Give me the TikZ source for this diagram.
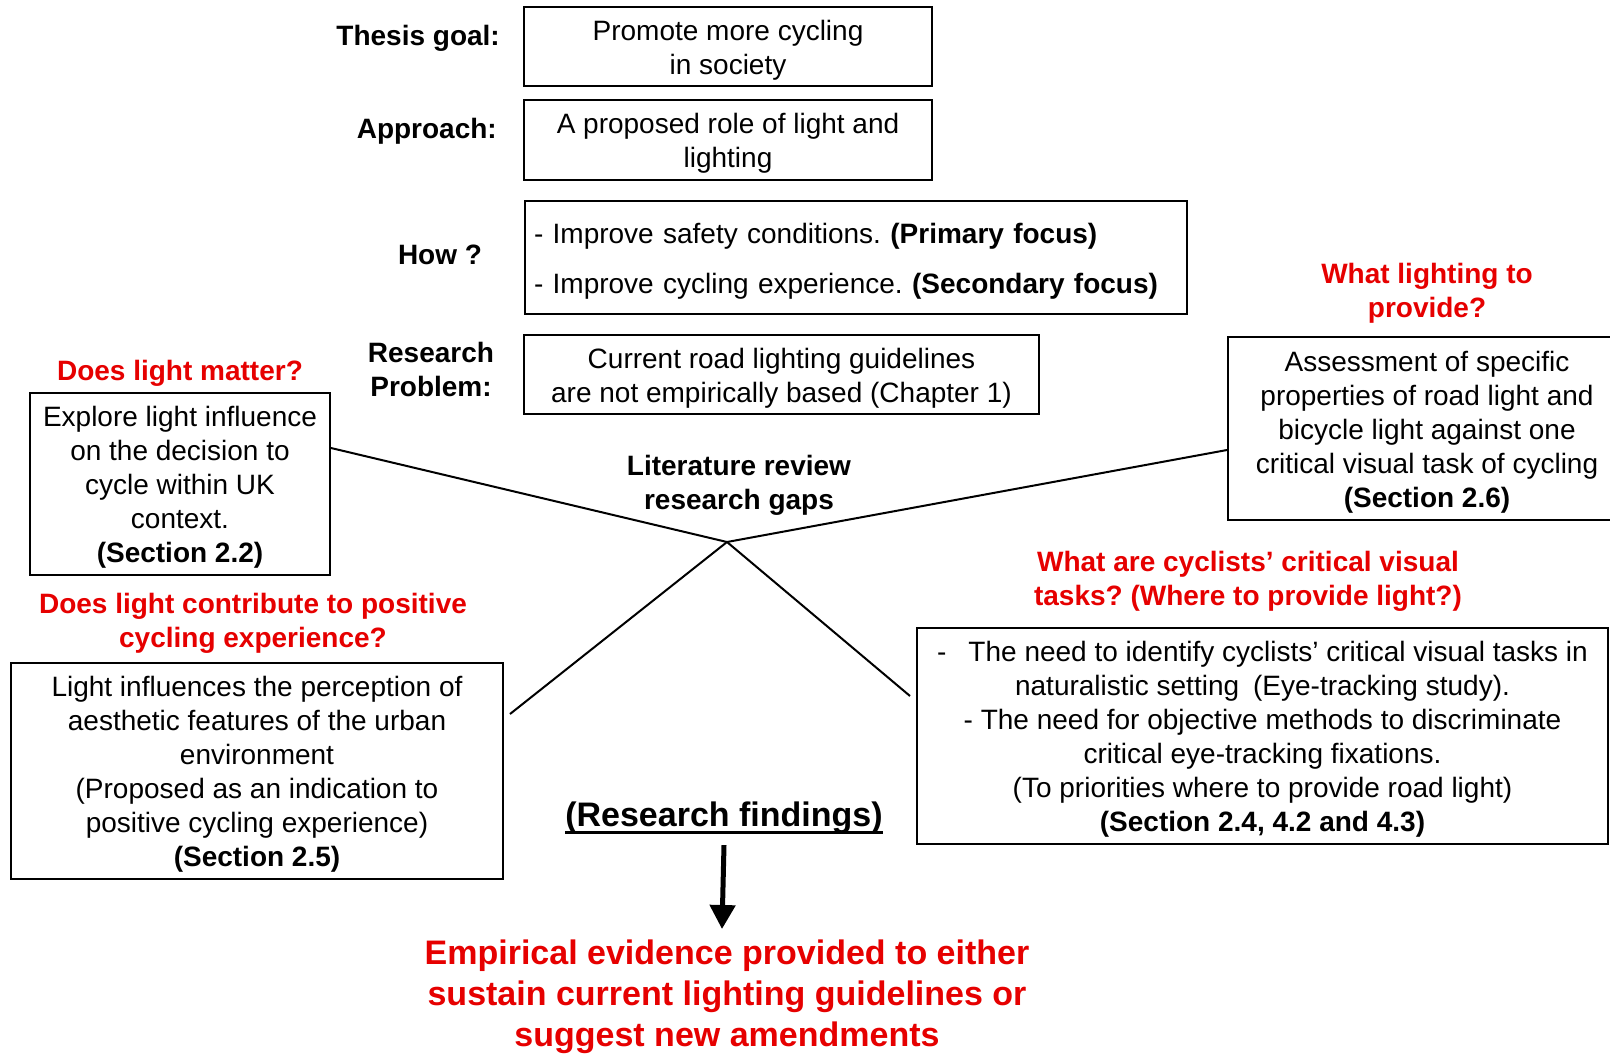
\documentclass[tikz,border=0pt]{standalone}
\usepackage{fontspec}
\setmainfont{Liberation Sans}
\usetikzlibrary{arrows.meta}
\definecolor{qred}{RGB}{230,0,0}
\newcommand\bodyfs{\fontsize{28}{34}\selectfont}
\newcommand\bigfs{\fontsize{34}{41}\selectfont}
\newcommand\tstrut{\rule{0pt}{27.5pt}}
\frenchspacing
\begin{document}
\begin{tikzpicture}[x=1pt,y=-1pt,
  box/.style={draw, line width=2pt, inner sep=0pt, align=center, font=\bodyfs},
  lbl/.style={inner sep=0pt, align=center, font=\bodyfs\bfseries, execute at begin node=\tstrut},
  qlbl/.style={inner sep=0pt, align=center, font=\bodyfs\bfseries, text=qred, execute at begin node=\tstrut},
  conn/.style={line width=2pt},
  bigarrow/.style={line width=5pt, -{Triangle[width=25pt,length=24pt]}}]
\useasboundingbox (0,0) rectangle (1610,1053);
\clip (0,0) rectangle (1610,1053);
\fill[white] (0,0) rectangle (1610,1053);

% top column
\node[box, minimum width=408, minimum height=79] (goal) at (728,46.5) {\tstrut Promote more cycling\\in society};
\node[lbl, anchor=east] (lgoal) at (500,35) {Thesis goal:};
\node[box, minimum width=408, minimum height=80] (appr) at (728,140) {\tstrut A proposed role of light and\\lighting};
\node[lbl, anchor=east] (lappr) at (497,128) {Approach:};
\node[box, anchor=north west, text width=644, inner xsep=9pt, align=left, minimum height=113,
      font=\fontsize{28}{50}\selectfont] (how) at (524,200)
      {\tstrut- Improve safety conditions. \textbf{(Primary focus)}\\- Improve cycling experience. \textbf{(Secondary focus)}};
\node[lbl] (lhow) at (440,251) {How ?};
\node[box, minimum width=515, minimum height=79] (prob) at (781.5,374.5) {\tstrut Current road lighting guidelines\\are not empirically based (Chapter 1)};
\node[lbl] (lprob) at (431,369.5) {Research\\Problem:};

% left upper
\node[qlbl] (q1) at (180,370) {Does light matter?};
\node[box, minimum width=300, minimum height=182] (s22) at (180,484)
  {\tstrut Explore light influence\\on the decision to\\cycle within UK\\context.\\\textbf{(Section 2.2)}};

% hub
\node[lbl] (lit) at (739,485) {Literature review\\research gaps};
\coordinate (hub) at (727,542);

% right upper
\node[qlbl] (q2) at (1427,293.5) {What lighting to\\provide?};
\node[box, minimum width=398, minimum height=183] (s26) at (1427,428.5)
  {\tstrut Assessment of specific\\properties of road light and\\bicycle light against one\\critical visual task of cycling\\\textbf{(Section 2.6)}};

% right lower
\node[qlbl] (q3) at (1248,581) {What are cyclists’ critical visual\\tasks? (Where to provide light?)};
\node[box, minimum width=691, minimum height=216] (s24) at (1262.5,736)
  {\tstrut -\hspace{22pt}The need to identify cyclists’ critical visual tasks in\\naturalistic setting\enspace(Eye-tracking study).\\- The need for objective methods to discriminate\\critical eye-tracking fixations.\\(To priorities where to provide road light)\\\textbf{(Section 2.4, 4.2 and 4.3)}};

% left lower
\node[qlbl] (q4) at (253,623) {Does light contribute to positive\\cycling experience?};
\node[box, minimum width=492, minimum height=216] (s25) at (257,771)
  {\tstrut Light influences the perception of\\aesthetic features of the urban\\environment\\(Proposed as an indication to\\positive cycling experience)\\\textbf{(Section 2.5)}};

% connectors
\draw[conn] ([yshift=36pt]s22.east) -- (hub);
\draw[conn] (hub) -- ([yshift=-21.5pt]s26.west);
\draw[conn] (hub) -- ([xshift=6pt,yshift=57pt]s25.east);
\draw[conn] (hub) -- ([xshift=-6pt,yshift=40pt]s24.west);

% findings
\node[inner sep=0pt, font=\bigfs\bfseries] (find) at (724,818) {(Research findings)};
\draw[line width=2.5pt] ([yshift=-6pt]find.base west) -- ([yshift=-6pt]find.base east);
\coordinate (ae) at (722,929);
\draw[bigarrow] ([yshift=-11pt]find.south) -- (ae);

\node[inner sep=0pt, align=center, font=\bigfs\bfseries, text=qred] (evid) at (727,997)
  {Empirical evidence provided to either\\sustain current lighting guidelines or\\suggest new amendments};
\end{tikzpicture}
\end{document}
